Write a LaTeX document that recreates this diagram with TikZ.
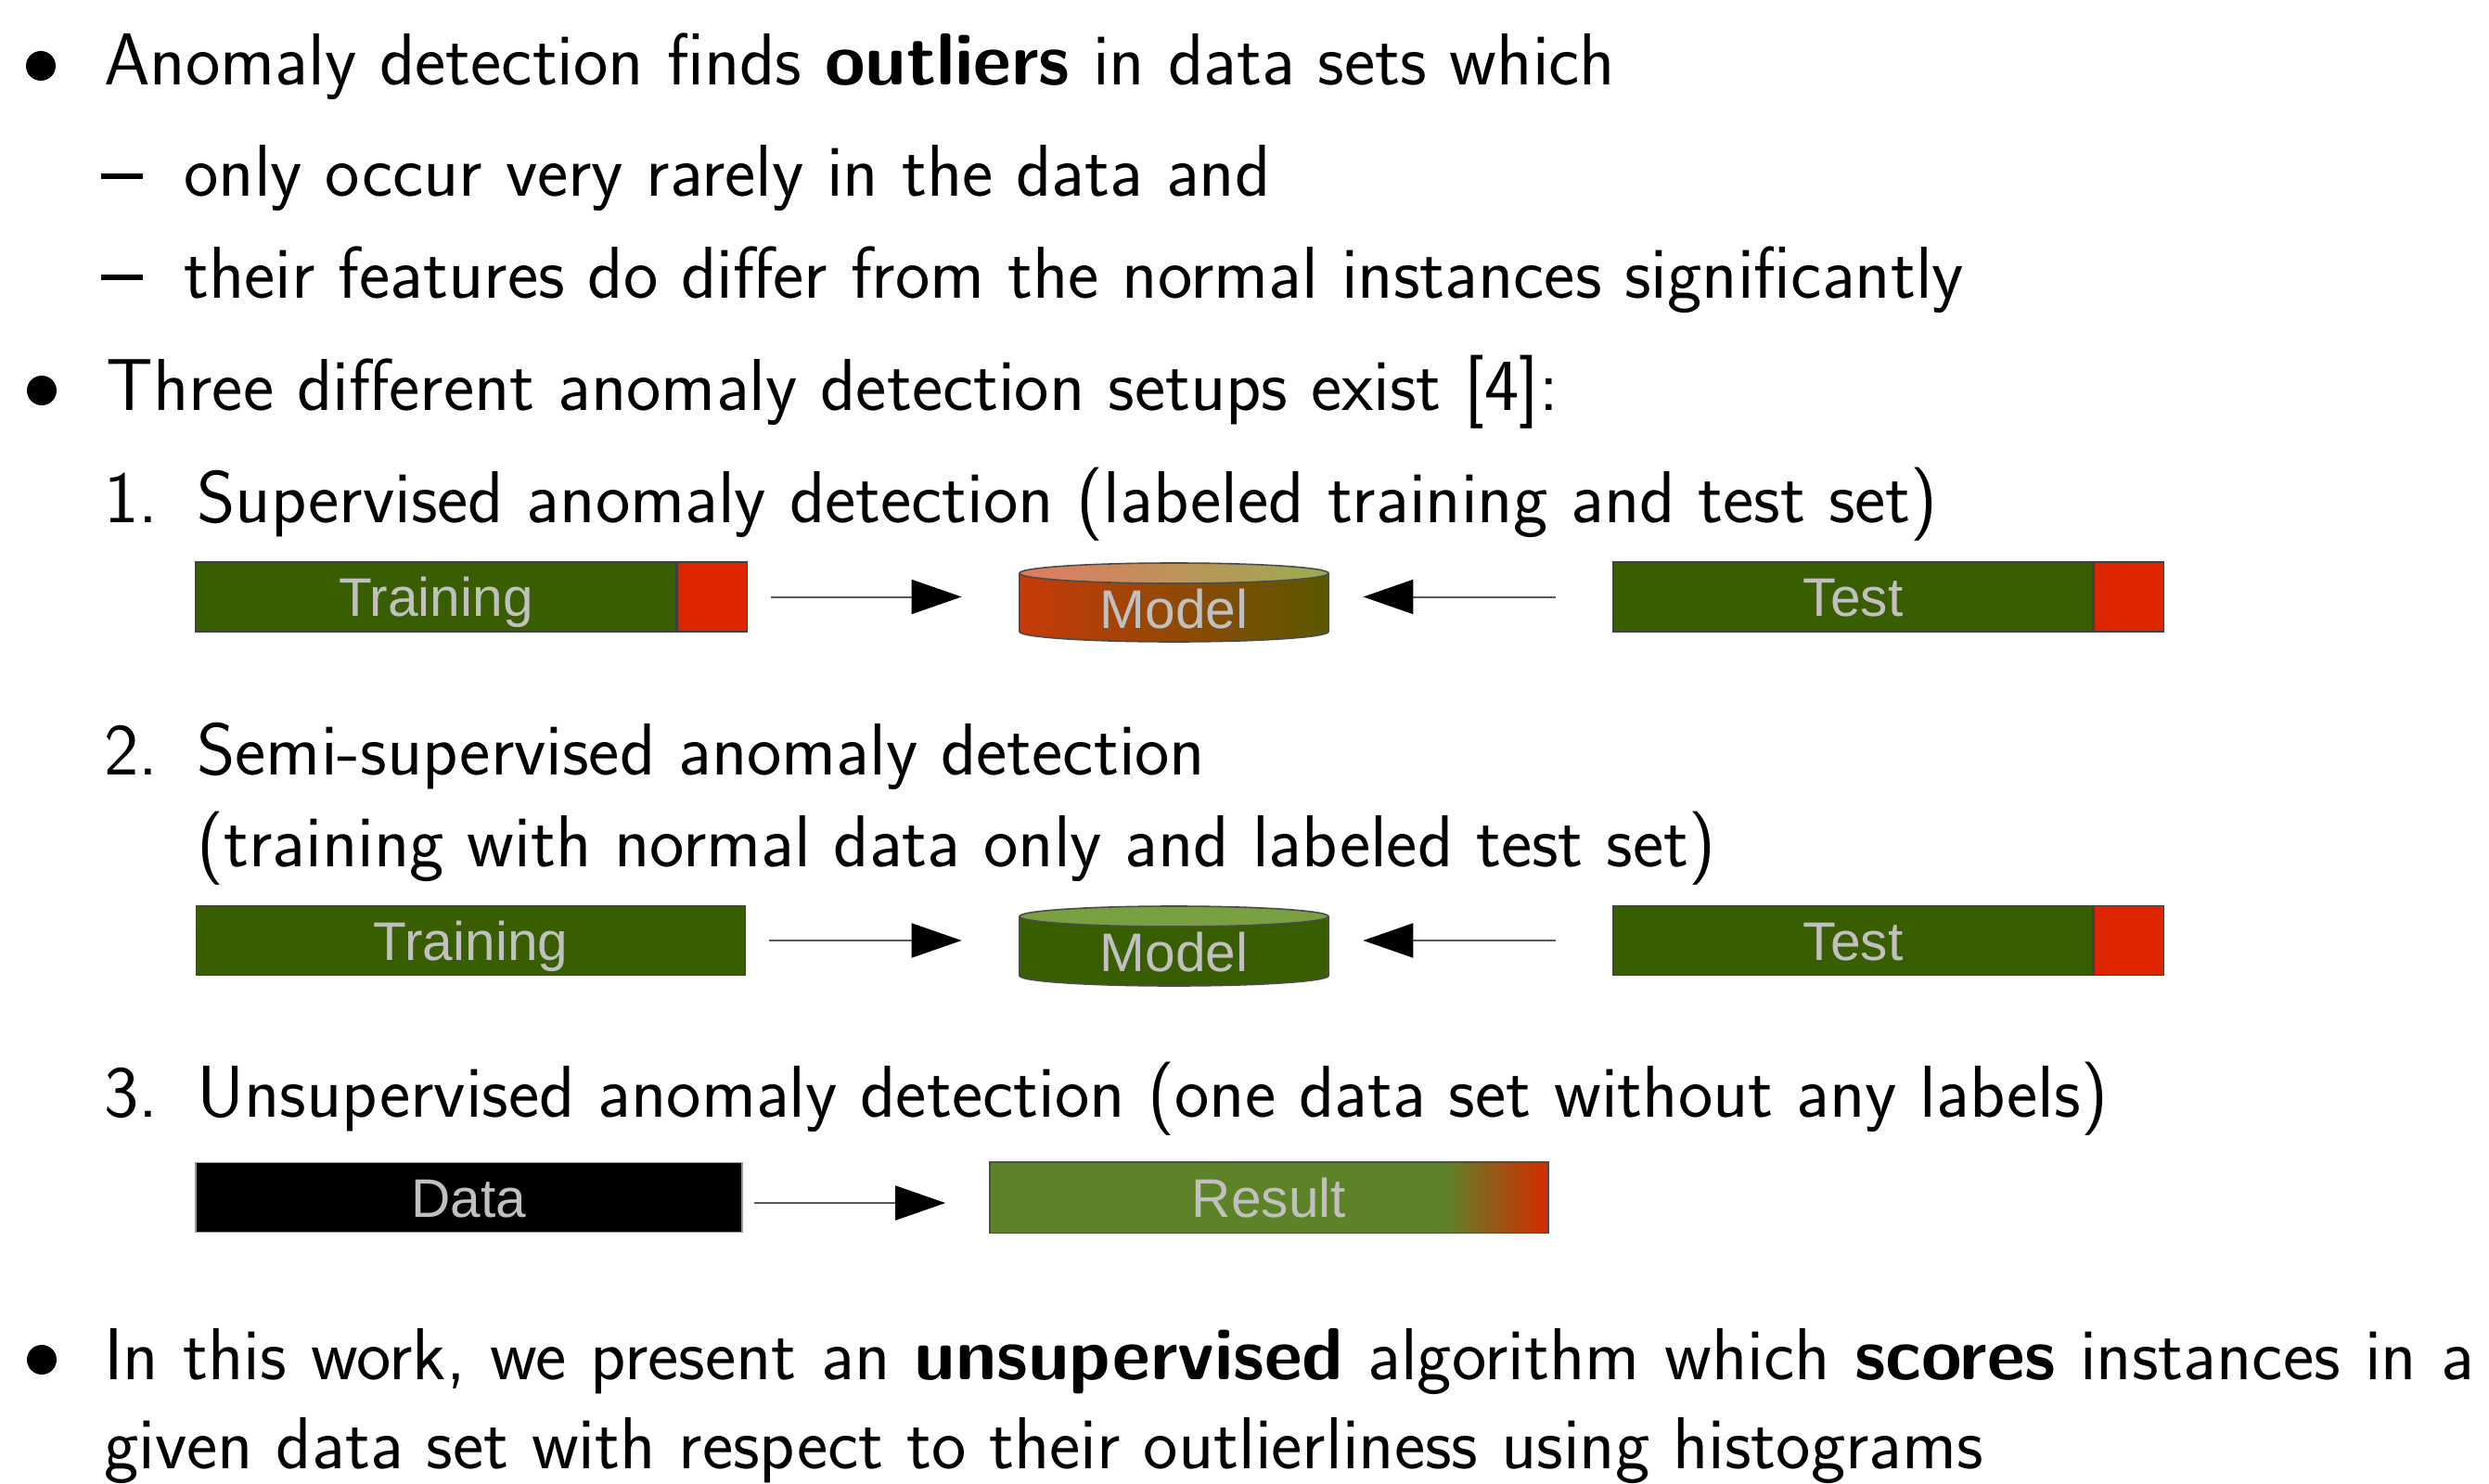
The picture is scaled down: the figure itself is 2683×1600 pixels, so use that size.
\documentclass[tikz,border=0pt]{standalone}
\usepackage{fontspec}
\newfontfamily\boxfont{Liberation Sans}
\usetikzlibrary{arrows.meta}

\definecolor{dgreen}{HTML}{385E00}
\definecolor{dred}{HTML}{DD2500}
\definecolor{rgreen}{HTML}{5E8228}
\definecolor{rred}{HTML}{D52A00}
\definecolor{boxtext}{HTML}{C0C0C0}
\definecolor{mbodyL}{HTML}{C83A0A}
\definecolor{mbodyR}{HTML}{5A5800}
\definecolor{mtopL}{HTML}{E07A62}
\definecolor{mtopR}{HTML}{9AAC50}
\definecolor{mtopG}{HTML}{78A040}

\newcommand{\subdash}{\rule[0.24em]{0.56em}{0.076em}}

\begin{document}
\begin{tikzpicture}[x=0.5pt,y=-0.5pt,
  txt/.style={anchor=base west, inner sep=0pt, font=\sffamily\fontsize{39.65pt}{47pt}\selectfont},
  bul/.style={circle, fill=black, inner sep=0pt, minimum size=16pt},
  bar/.style={draw=black!75, line width=0.8pt, inner sep=0pt, minimum height=37.5pt,
    text=boxtext, font=\boxfont\fontsize{29.3pt}{30pt}\selectfont, text height=21pt, text depth=0pt},
  boxlabel/.style={anchor=base, inner sep=0pt, text=boxtext, font=\boxfont\fontsize{29.3pt}{30pt}\selectfont},
  slot/.style={inner sep=0pt, minimum width=166.5pt, minimum height=42.5pt},
  arr/.style={draw=black!65, line width=1pt, -{Triangle[length=27pt,width=18.5pt,color=black]}},
  rim/.style={draw=black!70, line width=0.8pt}
]
\useasboundingbox (0,0) rectangle (2683,1600);

% ---- first bullet with two sub-items
\node[bul] (b1) at (44,71) {};
\node[txt] (l1) at (112,92) {Anomaly detection finds \textbf{outliers} in data sets which};
\node[txt] (d2) at (109,212) {\subdash};
\node[txt] (l2) at (198,212) {only occur very rarely in the data and};
\node[txt] (d3) at (109,321) {\subdash};
\node[txt] (l3) at (198,321) {their features do differ from the normal instances significantly};

% ---- second bullet with the enumerated setups
\node[bul] (b4) at (45,421) {};
\node[txt] (l4) at (114,442) {Three different anomaly detection setups exist [4]:};
\node[txt] (n5) at (112,563) {1.};
\node[txt] (l5) at (212,563) {Supervised anomaly detection (labeled training and test set)};

% setup 1: labeled training and test data
\node[bar, fill=dgreen, minimum width=259pt] (tr1) at (470,643.5) {Training};
\node[bar, fill=dred, minimum width=37.5pt, anchor=west] (tr1r) at (tr1.east) {};
\node[bar, fill=dgreen, minimum width=258.5pt] (ts1) at (1997.5,643.5) {Test};
\node[bar, fill=dred, minimum width=37.5pt, anchor=west] (ts1r) at (ts1.east) {};
\node[slot] (md1) at (1265.5,649.5) {};
\shade[left color=mbodyL, right color=mbodyR] (1099,618) -- (1099,681)
  arc[start angle=180, end angle=360, x radius=83.25pt, y radius=5.5pt] -- (1432,618) -- cycle;
\draw[rim] (1099,618) -- (1099,681)
  arc[start angle=180, end angle=360, x radius=83.25pt, y radius=5.5pt] -- (1432,618);
\shade[left color=mtopL, right color=mtopR] (1265.5,618) ellipse [x radius=83.25pt, y radius=5.5pt];
\draw[rim] (1265.5,618) ellipse [x radius=83.25pt, y radius=5.5pt];
\node[boxlabel] (mt1) at (1265.5,677) {Model};
\draw[arr, shorten <=12.5pt, shorten >=31pt] (tr1r.east) -- (tr1r.east -| md1.west);
\draw[arr, shorten <=30.5pt, shorten >=18.5pt] (ts1.west) -- (ts1.west -| md1.east);

% setup 2: training on normal data only
\node[txt] (n7) at (112,835) {2.};
\node[txt] (l7) at (212,835) {Semi-supervised anomaly detection};
\node[txt] (l8) at (212,934) {(training with normal data only and labeled test set)};

\node[bar, fill=dgreen, minimum width=296pt] (tr2) at (507.5,1014) {Training};
\node[bar, fill=dgreen, minimum width=258.5pt] (ts2) at (1997.5,1014) {Test};
\node[bar, fill=dred, minimum width=37.5pt, anchor=west] (ts2r) at (ts2.east) {};
\node[slot] (md2) at (1265.5,1020) {};
\fill[dgreen] (1099,988) -- (1099,1052)
  arc[start angle=180, end angle=360, x radius=83.25pt, y radius=5.5pt] -- (1432,988) -- cycle;
\draw[rim] (1099,988) -- (1099,1052)
  arc[start angle=180, end angle=360, x radius=83.25pt, y radius=5.5pt] -- (1432,988);
\fill[mtopG] (1265.5,988) ellipse [x radius=83.25pt, y radius=5.5pt];
\draw[rim] (1265.5,988) ellipse [x radius=83.25pt, y radius=5.5pt];
\node[boxlabel] (mt2) at (1265.5,1047) {Model};
\draw[arr, shorten <=12.5pt, shorten >=31pt] (tr2.east) -- (tr2.east -| md2.west);
\draw[arr, shorten <=30.5pt, shorten >=18.5pt] (ts2.west) -- (ts2.west -| md2.east);

% setup 3: one unlabeled data set
\node[txt] (n10) at (112,1204) {3.};
\node[txt] (l10) at (212,1204) {Unsupervised anomaly detection (one data set without any labels)};

\node[bar, fill=black, draw=black!40, minimum width=294.5pt] (dat) at (505.5,1291) {Data};
\node[bar, fill=rgreen, draw=none, minimum width=300pt] (res) at (1368,1291) {Result};
% score fading from normal (green) to outlying (red) on the right end
\shade[left color=rgreen, right color=rred]
  ([xshift=246pt]res.south west) rectangle (res.north east);
\draw[rim] (res.south west) rectangle (res.north east);
\draw[arr, shorten <=6pt, shorten >=24pt] ([yshift=-3pt]dat.east) -- ([yshift=-3pt]res.west);

% ---- third bullet
\node[bul] (b12) at (45,1466) {};
\node[txt] (l12) at (112,1487) {\makebox[1277.5pt][s]{In this work, we present an \textbf{unsupervised} algorithm which \textbf{scores} instances in a}};
\node[txt] (l13) at (112,1583) {given data set with respect to their outlierliness using histograms};
\end{tikzpicture}
\end{document}
